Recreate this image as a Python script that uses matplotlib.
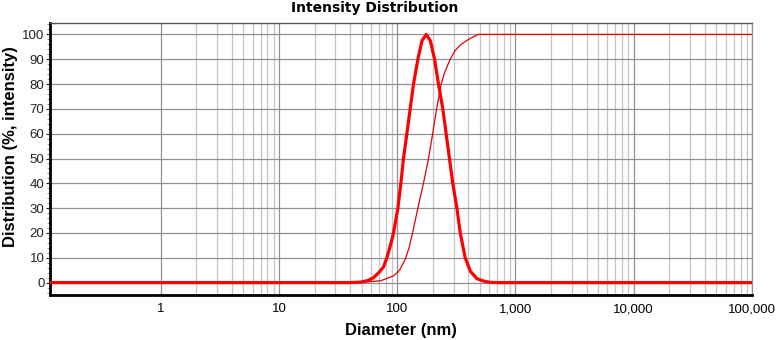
import matplotlib
matplotlib.use("Agg")
import matplotlib.pyplot as plt
from matplotlib.ticker import FixedLocator, MultipleLocator, FuncFormatter, NullFormatter

plt.rcParams["font.family"] = ["Liberation Sans", "DejaVu Sans"]

# ====================== data ======================
# intensity distribution (thick), normalised to peak = 100
dist_d = [0.116, 39.8, 49.0, 56.2, 63.1, 70.8, 76.6, 81.8, 87.1, 93.1,
          101.4, 107.4, 113.0, 120.8, 128.8, 137.4, 149.6, 162.2, 175.8,
          190.5, 207.0, 223.4, 243.2, 259.4, 276.7, 295.1, 319.9, 341.4,
          375.8, 416.9, 472.1, 537.0, 611.0, 708.0, 100000]
dist_val = [0, 0, 0.2, 0.8, 2, 4.3, 6.3, 10, 14.5, 20,
            30, 40, 50, 60, 70, 80, 90, 97.5, 100,
            97.5, 90, 80, 70, 60, 50, 40, 30, 20,
            10, 4.5, 1.6, 0.6, 0.1, 0, 0]

# cumulative (thin)
cum_d = [0.116, 39.8, 56.2, 71.8, 83.2, 93.1, 104.7, 117.0, 125.9, 134.9,
         149.6, 166.7, 184.1, 199.5, 215.3, 235.5, 251.2, 280.5, 309.0,
         341.4, 380.2, 426.6, 484.2, 100000]
cum_val = [0, 0, 0.3, 0.7, 1.8, 2.7, 5, 9.4, 14, 20,
           30, 40, 50, 60, 70, 80, 84.5, 90, 93.5,
           95.7, 97.3, 98.7, 100, 100]

x_ticks = [1, 10, 100, 1000, 10000, 100000]
# ===================================================

fig = plt.figure(figsize=(7.78, 3.4), dpi=100)
ax = fig.add_axes([50 / 778, 1 - 295 / 340, 702 / 778, 272 / 340])

ax.plot(cum_d, cum_val, color="#e00000", linewidth=0.9, zorder=3)
ax.plot(dist_d, dist_val, color="#ff0000", linewidth=2.3, zorder=4,
        solid_joinstyle="round")

ax.set_xscale("log")
ax.set_xlim(0.116, 100000)
ax.set_ylim(-5, 104.6)

# minor grid only from 1 nm upward
minor = [m * d for d in x_ticks[:-1] for m in range(2, 10)]
ax.xaxis.set_major_locator(FixedLocator(x_ticks))
ax.xaxis.set_minor_locator(FixedLocator(minor))
ax.xaxis.set_major_formatter(FuncFormatter(lambda v, p: f"{v:,.0f}"))
ax.xaxis.set_minor_formatter(NullFormatter())
ax.tick_params(axis="x", which="both", length=0, pad=6, labelsize=9.5)

ax.set_yticks(range(0, 101, 10))
ax.yaxis.set_minor_locator(MultipleLocator(2))
ax.tick_params(axis="y", which="major", length=3, width=0.8, pad=1, labelsize=9.5, colors="#222222")
ax.tick_params(axis="y", which="minor", length=2, width=0.6, color="#888888")

ax.grid(True, which="major", axis="both", color="#909090", linewidth=0.9)
ax.grid(True, which="minor", axis="x", color="#c4c4c4", linewidth=0.9)
ax.set_axisbelow(True)

for s in ["left", "bottom"]:
    ax.spines[s].set_linewidth(2)
    ax.spines[s].set_color("black")
ax.spines["top"].set_linewidth(1)
ax.spines["top"].set_color("#555555")
ax.spines["right"].set_linewidth(0.9)
ax.spines["right"].set_color("#909090")

fig.text(375 / 778, 1 - 8 / 340, "Intensity Distribution", ha="center", va="center",
         fontsize=10, fontweight="bold", family="DejaVu Sans")
fig.text(401 / 778, 1 - 330 / 340, "Diameter (nm)", ha="center", va="center",
         fontsize=12, fontweight="bold")
fig.text(11 / 778, 1 - 147 / 340, "Distribution (%, intensity)", ha="center", va="center",
         rotation=90, fontsize=12, fontweight="bold")

fig.savefig("out.png", dpi=100)
